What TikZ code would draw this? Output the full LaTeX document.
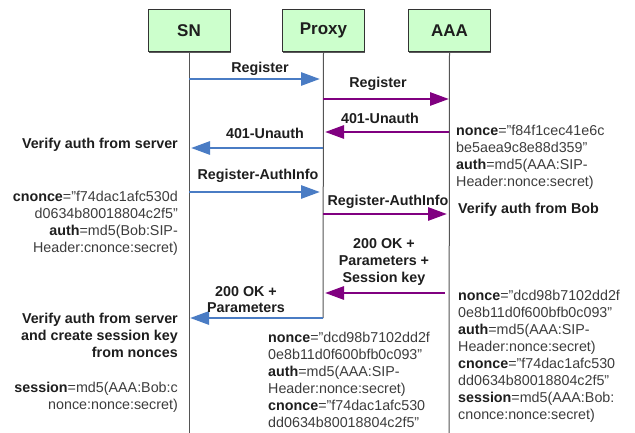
\documentclass[tikz,border=0pt]{standalone}
\usepackage{fontspec}
\setmainfont{Liberation Sans}
\usetikzlibrary{arrows.meta,shadows}
\definecolor{boxfill}{HTML}{CCFFCC}
\definecolor{boxline}{HTML}{333333}
\definecolor{lifeline}{HTML}{555555}
\definecolor{msgblue}{HTML}{4A7CC4}
\definecolor{msgpurple}{HTML}{800080}
\definecolor{ink}{HTML}{1E1E1E}
\definecolor{soft}{HTML}{3C3C3C}
\tikzset{
  actor/.style={draw=boxline, fill=boxfill, line width=1pt, minimum width=82pt,
    minimum height=42pt, inner sep=0pt, text=ink, font=\bfseries\fontsize{17}{20}\selectfont,
    drop shadow={shadow xshift=0.6pt, shadow yshift=-1.4pt, fill=black!65, opacity=1}},
  life/.style={draw=lifeline, line width=1pt},
  bmsg/.style={draw=msgblue, line width=2.8pt, -{Triangle[length=19pt,width=13pt]}},
  pmsg/.style={draw=msgpurple, line width=2.8pt, -{Triangle[length=19pt,width=13pt]}},
  lbl/.style={inner sep=0pt, text=ink, align=center, font=\bfseries\fontsize{14.3}{17}\selectfont},
  note/.style={inner sep=0pt, text=soft, font=\fontsize{14.3}{17}\selectfont},
  head/.style={inner sep=0pt, text=ink, font=\bfseries\fontsize{14.3}{17}\selectfont},
}
\newcommand{\kw}[1]{{\bfseries\color{ink}#1}}
\begin{document}
\begin{tikzpicture}[x=1pt,y=-1pt]
\useasboundingbox (0,0) rectangle (635,433);

% participants
\node[actor] (sn)    at (189,31)   {SN};
\node[actor] (proxy) at (323.5,30.5) {Proxy};
\node[actor] (aaa)   at (449.5,31) {AAA};

% lifeline ends
\coordinate (snend)    at (189,433);
\coordinate (proxyend) at (323,318);
\coordinate (aaaend)   at (449,433);
\draw[life] (sn.south) -- (snend);
\draw[life] (proxy.south) -- (proxyend);
\draw[life] (aaa.south) -- (aaaend);

% message end points on the lifelines
\coordinate (s1) at (189,79);   \coordinate (p1) at (320,79);
\coordinate (p2) at (323,99);   \coordinate (a2) at (449,99);
\coordinate (a3) at (449,132);  \coordinate (p3) at (325,132);
\coordinate (p4) at (323,148);  \coordinate (s4) at (191,148);
\coordinate (s5) at (189,192);  \coordinate (p5) at (320,192);
\coordinate (p6) at (323,214);  \coordinate (a6) at (447,214);
\coordinate (a7) at (445,293);  \coordinate (p7) at (325,293);
\coordinate (p8) at (323,318);  \coordinate (s8) at (190,318);

% messages
\draw[bmsg] (s1) -- (p1);
\draw[pmsg] (p2) -- (a2);
\draw[pmsg] (a3) -- (p3);
\draw[bmsg] (p4) -- (s4);
\draw[bmsg] (s5) -- (p5);
\draw[pmsg] (p6) -- (a6);
\draw[pmsg] (a7) -- (p7);
\draw[bmsg] (p8) -- (s8);

% message labels (base anchor = last line of the node)
\node[lbl, anchor=base] (l1) at (260,73)  {Register};
\node[lbl, anchor=base] (l2) at (378,88)  {Register};
\node[lbl, anchor=base] (l3) at (380,124) {401-Unauth};
\node[lbl, anchor=base] (l4) at (265,139) {401-Unauth};
\node[lbl, anchor=base] (l5) at (258,180) {Register-AuthInfo};
\node[lbl, anchor=base] (l6) at (388,206) {Register-AuthInfo};
\node[lbl, anchor=base] (l7) at (384,282) {200 OK +\\Parameters +\\Session key};
\node[lbl, anchor=base, font=\bfseries\fontsize{14.3}{16}\selectfont] (l8) at (246,312) {200 OK +\\Parameters};

% SN side
\node[head, anchor=base east] (v1) at (178,149) {Verify auth from server};
\node[note, anchor=base east, align=right] (n1) at (178,252.5)
  {\kw{cnonce}="f74dac1afc530d\\d0634b80018804c2f5"\\\kw{auth}=md5(Bob:SIP-\\Header:cnonce:secret)};
\node[head, anchor=base east, align=right] (v2) at (178,357.5)
  {Verify auth from server\\and create session key\\from nonces};
\node[note, anchor=base east, align=right] (n2) at (178,409.5)
  {\kw{session}=md5(AAA:Bob:c\\nonce:nonce:secret)};

% AAA side
\node[note, anchor=base west, align=left] (n3) at (456,186)
  {\kw{nonce}="f84f1cec41e6c\\be5aea9c8e88d359"\\\kw{auth}=md5(AAA:SIP-\\Header:nonce:secret)};
\node[head, anchor=base west] (v3) at (458,214) {Verify auth from Bob};
\node[note, anchor=base west, align=left] (n4) at (458,419.5)
  {\kw{nonce}="dcd98b7102dd2f\\0e8b11d0f600bfb0c093"\\\kw{auth}=md5(AAA:SIP-\\Header:nonce:secret)\\\kw{cnonce}="f74dac1afc530\\dd0634b80018804c2f5"\\\kw{session}=md5(AAA:Bob:\\cnonce:nonce:secret)};

% Proxy side
\node[note, anchor=base west, align=left] (n5) at (268,427.5)
  {\kw{nonce}="dcd98b7102dd2f\\0e8b11d0f600bfb0c093"\\\kw{auth}=md5(AAA:SIP-\\Header:nonce:secret)\\\kw{cnonce}="f74dac1afc530\\dd0634b80018804c2f5"};
\end{tikzpicture}
\end{document}
